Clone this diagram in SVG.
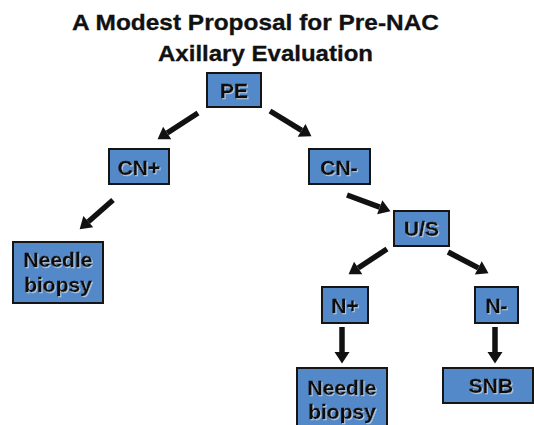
<svg xmlns="http://www.w3.org/2000/svg" width="534" height="425" viewBox="0 0 534 425">
<defs>
<style>
.box{fill:#5489c9;stroke:#151515;stroke-width:2}
.lbl{font-family:"Liberation Sans",Arial,sans-serif;font-weight:bold;font-size:21px;fill:#111;stroke:#111;stroke-width:0.35;text-anchor:middle;filter:url(#sh)}
.title{font-family:"Liberation Sans",Arial,sans-serif;font-weight:bold;font-size:22px;fill:#111;stroke:#111;stroke-width:0.3}
.arr{stroke:#111;stroke-width:5.5;fill:none;marker-end:url(#ah)}
</style>
<marker id="ah" markerUnits="userSpaceOnUse" markerWidth="20" markerHeight="20" refX="0" refY="0" viewBox="0 -10 14 20" orient="auto" overflow="visible">
<path d="M0,-7.5 L11.5,0 L0,7.5 z" fill="#111"/>
</marker>
<filter id="sh" x="-20%" y="-20%" width="140%" height="140%">
<feDropShadow dx="1" dy="1" stdDeviation="0.3" flood-color="#ffffff" flood-opacity="0.55"/>
</filter>
</defs>
<rect width="534" height="425" fill="#ffffff"/>
<g id="title">
<text class="title" x="72" y="30" textLength="367" lengthAdjust="spacingAndGlyphs">A Modest Proposal for Pre-NAC</text>
<text class="title" x="158" y="61" textLength="215" lengthAdjust="spacingAndGlyphs">Axillary Evaluation</text>
</g>
<g id="connectors">
<line class="arr" x1="198" y1="113" x2="167.2" y2="133"/>
<line class="arr" x1="270" y1="111" x2="301.6" y2="130.3"/>
<line class="arr" x1="113" y1="200" x2="88.3" y2="221.7"/>
<line class="arr" x1="347" y1="195" x2="379.7" y2="207.2"/>
<line class="arr" x1="387" y1="249" x2="358.2" y2="268"/>
<line class="arr" x1="448" y1="252" x2="478.3" y2="267.9"/>
<line class="arr" x1="342" y1="327" x2="342" y2="352"/>
<line class="arr" x1="495" y1="327" x2="495" y2="352"/>
</g>
<g id="PE"><rect class="box" x="207" y="73" width="54" height="34"/><text class="lbl" x="234" y="98">PE</text></g>
<g id="CNplus"><rect class="box" x="109" y="149" width="60" height="35"/><text class="lbl" x="139" y="175">CN+</text></g>
<g id="CNminus"><rect class="box" x="309" y="149" width="61" height="35"/><text class="lbl" x="339" y="175">CN-</text></g>
<g id="needle1"><rect class="box" x="13" y="242" width="90" height="61"/><text class="lbl" x="58" y="267">Needle</text><text class="lbl" x="58" y="292">biopsy</text></g>
<g id="US"><rect class="box" x="394" y="211" width="55" height="35"/><text class="lbl" x="421.5" y="236">U/S</text></g>
<g id="Nplus"><rect class="box" x="322" y="287" width="46" height="36"/><text class="lbl" x="345" y="313">N+</text></g>
<g id="Nminus"><rect class="box" x="475" y="287" width="43" height="36"/><text class="lbl" x="496.5" y="313">N-</text></g>
<g id="needle2"><rect class="box" x="297" y="368" width="90" height="60"/><text class="lbl" x="342" y="395">Needle</text><text class="lbl" x="342" y="419">biopsy</text></g>
<g id="SNB"><rect class="box" x="443" y="368" width="90" height="35"/><text class="lbl" x="491" y="393">SNB</text></g>
</svg>
